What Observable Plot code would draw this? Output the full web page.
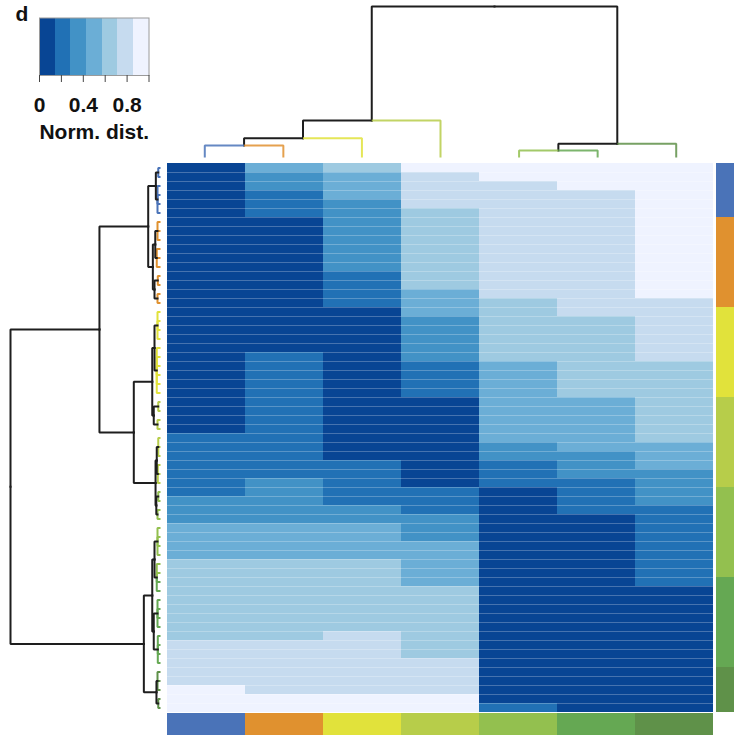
<!DOCTYPE html>
<html>
<head>
<meta charset="utf-8">
<script src="https://cdn.jsdelivr.net/npm/d3@7"></script>
<script src="https://cdn.jsdelivr.net/npm/@observablehq/plot@0.6"></script>
<style>
  html, body { margin: 0; padding: 0; background: #fff; }
  #chart { position: relative; width: 734px; height: 735px; background: #fff; font-family: "Liberation Sans", Arial, sans-serif; overflow: hidden; }
  #chart svg { position: absolute; background: transparent; }
</style>
</head>
<body>
<div id="chart"></div>
<script>
// ---------------- data ----------------
const columns = ["C1", "C2", "C3", "C4", "C5", "C6", "C7"];
const groupColors = ["#4a73b8", "#e0912f", "#e1e23b", "#b7cd4a", "#93c04f", "#65a853", "#5f9149"];

// normalized distance per row (61 rows, top to bottom) for each column
const col1 = [.05,.05,.05,.05,.05,.05,.05,.05,.05,.05, .05,.05,.05,.05,.05,.05,.05,.05,.05,.05,
              .05,.05,.05,.05,.05,.05,.05,.05,.05,.05, .2,.2,.2,.2,.2,.2,.2,.35,.35,.35,
              .5,.5,.5,.5,.65,.65,.65,.65,.65,.65, .65,.65,.65,.8,.8,.8,.8,.8,.95,.95, .95];
const col2 = [.5,.35,.35,.2,.2,.2,.05,.05,.05,.05, .05,.05,.05,.05,.05,.05,.05,.05,.05,.05,
              .05,.2,.2,.2,.2,.2,.2,.2,.2,.2, .2,.2,.2,.2,.2,.35,.35,.35,.35,.35,
              .5,.5,.5,.5,.65,.65,.65,.65,.65,.65, .65,.65,.65,.8,.8,.8,.8,.8,.8,.95, .95];
const col3 = [.65,.5,.5,.5,.35,.35,.35,.35,.35,.35, .35,.35,.2,.2,.2,.2,.05,.05,.05,.05,
              .05,.05,.05,.05,.05,.05,.05,.05,.05,.05, .05,.05,.05,.2,.2,.2,.2,.2,.35,.35,
              .5,.5,.5,.5,.65,.65,.65,.65,.65,.65, .65,.65,.8,.8,.8,.8,.8,.8,.8,.95, .95];
const col4 = [.95,.8,.8,.8,.8,.65,.65,.65,.65,.65, .65,.65,.65,.65,.5,.5,.5,.35,.35,.35,
              .35,.35,.2,.2,.2,.2,.05,.05,.05,.05, .05,.05,.05,.05,.05,.05,.2,.2,.2,.35,
              .35,.35,.5,.5,.5,.5,.5,.65,.65,.65, .65,.65,.65,.65,.65,.8,.8,.8,.8,.95, .95];
const col5 = [.95,.95,.8,.8,.8,.8,.8,.8,.8,.8, .8,.8,.8,.8,.8,.65,.65,.65,.65,.65,
              .65,.65,.5,.5,.5,.5,.5,.5,.5,.5, .5,.35,.35,.2,.2,.2,.05,.05,.05,.05,
              .05,.05,.05,.05,.05,.05,.05,.05,.05,.05, .05,.05,.05,.05,.05,.05,.05,.05,.05,.05, .2];
const col6 = [.95,.95,.95,.8,.8,.8,.8,.8,.8,.8, .8,.8,.8,.8,.8,.8,.8,.65,.65,.65,
              .65,.65,.65,.65,.65,.65,.5,.5,.5,.5, .5,.5,.35,.35,.35,.2,.2,.2,.2,.05,
              .05,.05,.05,.05,.05,.05,.05,.05,.05,.05, .05,.05,.05,.05,.05,.05,.05,.05,.05,.05, .05];
const col7 = [.95,.95,.95,.95,.95,.95,.95,.95,.95,.95, .95,.95,.95,.95,.95,.8,.8,.8,.8,.8,
              .8,.8,.65,.65,.65,.65,.65,.65,.65,.65, .65,.5,.5,.5,.35,.35,.35,.35,.2,.2,
              .2,.2,.2,.2,.2,.2,.2,.05,.05,.05, .05,.05,.05,.05,.05,.05,.05,.05,.05,.05, .05];

// group of each row (right colour bar)
const rowGroup = [0,0,0,0,0,0, 1,1,1,1,1,1,1,1,1,1, 2,2,2,2,2,2,2,2,2,2, 3,3,3,3,3,3,3,3,3,3,
                  4,4,4,4,4,4,4,4,4,4, 5,5,5,5,5,5,5,5,5,5, 6,6,6,6,6];

// colour legend
const blues = ["#084594", "#2171b5", "#4292c6", "#6baed6", "#9ecae1", "#c6dbef", "#eff3ff"];
const thresholds = [0.143, 0.286, 0.429, 0.571, 0.714, 0.857];
const legendTicks = [0, 0.2, 0.4, 0.6, 0.8, 1];
const legendLabels = {0: "0", 0.4: "0.4", 0.8: "0.8"};

// column dendrogram (leaf = column index, h = normalized height)
const colTree = {h: 1, c: [
  {h: 0.245, c: [{h: 0.128, c: [{h: 0.079, c: [0, 1]}, 2]}, 3]},
  {h: 0.091, c: [{h: 0.046, c: [4, 5]}, 6]}
]};

// row dendrogram (leaf = row index)
const rowTree = {h: 1, c: [
  {h: 0.407, c: [
    {h: 0.082, c: [
      {h: 0.031, c: [{h: 0.015, c: [0, 1]}, {h: 0.02, c: [2, 3, 4, 5]}]},
      {h: 0.051, c: [
        {h: 0.035, c: [{h: 0.02, c: [6, 7, 8]}, {h: 0.025, c: [9, 10, 11]}]},
        {h: 0.04, c: [{h: 0.018, c: [12, 13]}, {h: 0.02, c: [14, 15]}]}]}
    ]},
    {h: 0.178, c: [
      {h: 0.055, c: [
        {h: 0.04, c: [{h: 0.02, c: [16, 17, 18, 19]}, {h: 0.025, c: [20, 21, 22, 23, 24, 25]}]},
        {h: 0.045, c: [{h: 0.015, c: [26, 27]}, {h: 0.02, c: [28, 29]}]}]},
      {h: 0.033, c: [
        {h: 0.025, c: [{h: 0.015, c: [30, 31, 32]}, {h: 0.018, c: [33, 34, 35]}]},
        {h: 0.028, c: [{h: 0.015, c: [36, 37]}, {h: 0.02, c: [38, 39]}]}]}
    ]}
  ]},
  {h: 0.111, c: [
    {h: 0.055, c: [
      {h: 0.04, c: [{h: 0.02, c: [40, 41, 42, 43]}, {h: 0.025, c: [44, 45, 46, 47]}]},
      {h: 0.045, c: [{h: 0.02, c: [48, 49, 50, 51]}, {h: 0.018, c: [52, 53, 54, 55]}]}]},
    {h: 0.027, c: [{h: 0.02, c: [56, 57, 58]}, {h: 0.015, c: [59, 60]}]}
  ]}
]};

// ---------------- helpers ----------------
const FONT = '"Liberation Sans", Arial, Helvetica, sans-serif';
const chart = document.getElementById("chart");
function place(svg, left, top) {
  svg.style.left = left + "px";
  svg.style.top = top + "px";
  chart.append(svg);
}
function buildTree(node, off) {
  if (typeof node === "number") return {leaf: true, idx: node, pos: node + off, h: 0};
  const kids = node.c.map(k => buildTree(k, off));
  return {leaf: false, h: node.h, pos: (kids[0].pos + kids[kids.length - 1].pos) / 2, kids};
}
function treeLinks(root, colorOf) {
  const pts = [];
  let id = 0;
  (function walk(n) {
    if (n.leaf) return;
    for (const k of n.kids) {
      const color = k.leaf ? colorOf(k.idx) : "#1e1e1e";
      const base = {id: id++, color, leaf: k.leaf};
      pts.push({...base, pos: k.pos, h: k.h});
      pts.push({...base, pos: k.pos, h: n.h});
      pts.push({...base, pos: n.pos, h: n.h});
      walk(k);
    }
  })(root);
  return pts;
}

const colData = [col1, col2, col3, col4, col5, col6, col7];
const cells = [];
colData.forEach((arr, j) => arr.forEach((v, i) => cells.push({col: columns[j], row: i, v})));
const nRows = col1.length;

// ---------------- heatmap ----------------
place(Plot.plot({
  width: 550, height: 549, margin: 0,
  style: {background: "transparent"},
  x: {domain: columns, axis: null, padding: 0},
  y: {domain: [0, nRows], reverse: true, axis: null},
  color: {type: "threshold", domain: thresholds, range: blues},
  marks: [
    Plot.barY(cells, {x: "col", y1: "row", y2: d => d.row + 1, fill: "v", shapeRendering: "crispEdges"}),
    Plot.ruleY(d3.range(1, nRows), {stroke: "white", strokeOpacity: 0.25, strokeWidth: 1, shapeRendering: "crispEdges"})
  ]
}), 165, 163);

// ---------------- right colour bar ----------------
place(Plot.plot({
  width: 18, height: 549, margin: 0,
  style: {background: "transparent"},
  y: {domain: d3.range(nRows), axis: null, padding: 0},
  color: {type: "identity"},
  marks: [
    Plot.cell(rowGroup.map((g, i) => ({row: i, g})), {y: "row", fill: d => groupColors[d.g], shapeRendering: "crispEdges"})
  ]
}), 716, 163);

// ---------------- bottom colour bar ----------------
place(Plot.plot({
  width: 550, height: 22, margin: 0,
  style: {background: "transparent"},
  x: {domain: columns, axis: null, padding: 0},
  color: {type: "identity"},
  marks: [
    Plot.cell(columns, {x: d => d, fill: (d, i) => groupColors[i], shapeRendering: "crispEdges"})
  ]
}), 165, 713);

// ---------------- top (column) dendrogram ----------------
const topPts = treeLinks(buildTree(colTree, 0), i => groupColors[i]);
place(Plot.plot({
  width: 550, height: 163,
  marginTop: 6, marginBottom: 6, marginLeft: 0, marginRight: 0,
  style: {background: "transparent"},
  x: {domain: [-0.5, columns.length - 0.5], axis: null},
  y: {domain: [0, 1], axis: null},
  color: {type: "identity"},
  marks: [
    Plot.line(topPts.filter(d => !d.leaf), {x: "pos", y: "h", z: "id", stroke: "color", strokeWidth: 2, strokeLinejoin: "miter", strokeLinecap: "square"}),
    Plot.line(topPts.filter(d => d.leaf), {x: "pos", y: "h", z: "id", stroke: "color", strokeWidth: 2, strokeOpacity: 0.85, strokeLinejoin: "miter", strokeLinecap: "butt"})
  ]
}), 165, 0);

// ---------------- left (row) dendrogram ----------------
const leftPts = treeLinks(buildTree(rowTree, 0.5), i => groupColors[rowGroup[i]]);
place(Plot.plot({
  width: 165, height: 549,
  marginLeft: 10, marginRight: 5, marginTop: 0, marginBottom: 0,
  style: {background: "transparent"},
  x: {domain: [0, 1], reverse: true, axis: null},
  y: {domain: [0, nRows], reverse: true, axis: null},
  color: {type: "identity"},
  marks: [
    Plot.line(leftPts.filter(d => d.leaf), {x: "h", y: "pos", z: "id", stroke: "color", strokeWidth: 2, strokeLinejoin: "miter", strokeLinecap: "butt"}),
    Plot.line(leftPts.filter(d => !d.leaf), {x: "h", y: "pos", z: "id", stroke: "color", strokeWidth: 2, strokeLinejoin: "miter", strokeLinecap: "square"})
  ]
}), 0, 163);

// ---------------- legend ----------------
const edges = [0, ...thresholds, 1];
const legendBins = blues.map((c, i) => ({lo: edges[i], hi: edges[i + 1], c}));
place(Plot.plot({
  width: 190, height: 150,
  marginLeft: 39, marginRight: 41.5, marginTop: 17.5, marginBottom: 75,
  style: {background: "transparent", fontFamily: FONT},
  x: {domain: [0, 1], axis: null},
  color: {type: "identity"},
  marks: [
    Plot.barX(legendBins, {x1: "lo", x2: "hi", fill: "c", shapeRendering: "crispEdges"}),
    Plot.frame({stroke: "#9a9a9a", strokeWidth: 1}),
    Plot.axisX({
      ticks: legendTicks, tickSize: 7, tickPadding: 15, stroke: "#444",
      tickFormat: d => legendLabels[d] ?? "",
      fontSize: 21, fontWeight: "bold", fill: "#111", label: null
    }),
    Plot.text(["Norm. dist."], {text: d => d, frameAnchor: "bottom", dy: 57, lineAnchor: "middle", fontSize: 21, fontWeight: "bold", fill: "#111"}),
    Plot.text(["d"], {text: d => d, frameAnchor: "top-left", dx: -24, dy: -4, textAnchor: "start", lineAnchor: "middle", fontSize: 21, fontWeight: "bold", fill: "#111"})
  ]
}), 0, 0);
</script>
</body>
</html>
